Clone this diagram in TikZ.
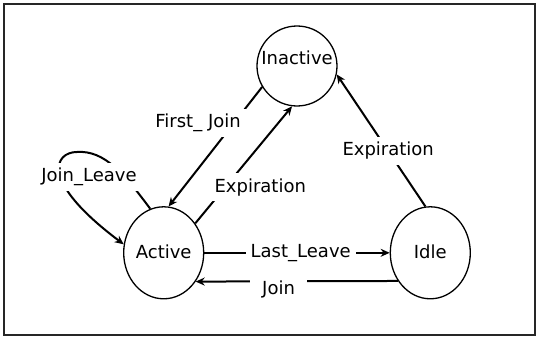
\documentclass[tikz,border=0pt]{standalone}
\usepackage{fontspec}
\setmainfont{DejaVu Sans}
\usetikzlibrary{shapes.geometric,arrows.meta}
\begin{document}
\begin{tikzpicture}[x=1pt, y=-1pt, font=\fontsize{18}{20}\selectfont,
    state/.style={draw, ellipse, line width=1.3pt, minimum width=80pt, minimum height=92pt,
                  inner xsep=-20pt, inner ysep=0pt, text height=11pt, text depth=0pt},
    trans/.style={line width=2pt, -{Stealth[length=9pt, width=8pt]}},
    lbl/.style={fill=white, inner sep=5pt}]
    \useasboundingbox (0,0) rectangle (539,339);
    \draw[line width=1.2pt, black!85] (4,4) rectangle (535,335);
    \matrix[column sep=52pt, row sep=99.5pt, matrix anchor=inactive.center] at (297,66) {
        & \node[state, minimum height=80pt, text height=0pt, text depth=3pt] (inactive) {Inactive}; & \\
        \node[state] (active) {Active}; & & \node[state] (idle) {Idle}; \\
    };
    \draw[trans] (inactive.211) -- node[lbl, pos=0.3, xshift=-36pt] {First\_ Join} (active.84);
    \draw[trans] (active.43) -- node[lbl, pos=0.31, xshift=35pt] {Expiration} (inactive.263);
    \draw[trans] (idle.96) -- node[lbl, pos=0.42] {Expiration} (inactive.348);
    \draw[trans] (active) -- node[lbl, pos=0.52] {Last\_Leave} (idle);
    \draw[trans] (idle.221) -- node[lbl, pos=0.59, yshift=-8pt, inner xsep=12pt] {Join} (active.318);
    % self loop on Active
    \draw[trans] (active.107) .. controls (125,175) and (105,150) .. (77,152)
        node[lbl, xshift=12pt, yshift=-25pt] {Join\_Leave}
        .. controls (55,152) and (38,180) .. (active.168);
\end{tikzpicture}
\end{document}
